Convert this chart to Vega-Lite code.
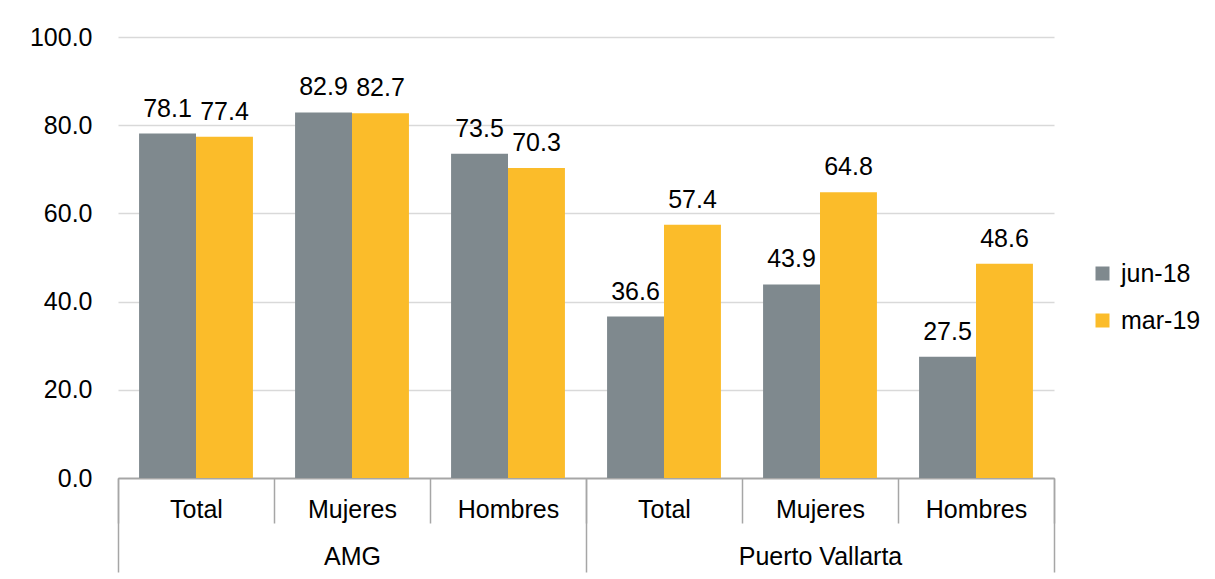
{
  "$schema": "https://vega.github.io/schema/vega-lite/v6.json",
  "width": 936,
  "height": 441,
  "autosize": "none",
  "padding": {"left": 118, "top": 37, "right": 161, "bottom": 101},
  "background": "white",
  "config": {
    "font": "Liberation Sans",
    "view": {"stroke": null},
    "axis": {"labelFont": "Liberation Sans", "labelColor": "#000000"},
    "legend": {"labelFont": "Liberation Sans"}
  },
  "layer": [
    {
      "data": {
        "values": [
          {"grupo": "AMG", "cat": "Total", "key": "AMG|Total", "serie": "jun-18", "valor": 78.1},
          {"grupo": "AMG", "cat": "Total", "key": "AMG|Total", "serie": "mar-19", "valor": 77.4},
          {"grupo": "AMG", "cat": "Mujeres", "key": "AMG|Mujeres", "serie": "jun-18", "valor": 82.9},
          {"grupo": "AMG", "cat": "Mujeres", "key": "AMG|Mujeres", "serie": "mar-19", "valor": 82.7},
          {"grupo": "AMG", "cat": "Hombres", "key": "AMG|Hombres", "serie": "jun-18", "valor": 73.5},
          {"grupo": "AMG", "cat": "Hombres", "key": "AMG|Hombres", "serie": "mar-19", "valor": 70.3},
          {"grupo": "Puerto Vallarta", "cat": "Total", "key": "PV|Total", "serie": "jun-18", "valor": 36.6},
          {"grupo": "Puerto Vallarta", "cat": "Total", "key": "PV|Total", "serie": "mar-19", "valor": 57.4},
          {"grupo": "Puerto Vallarta", "cat": "Mujeres", "key": "PV|Mujeres", "serie": "jun-18", "valor": 43.9},
          {"grupo": "Puerto Vallarta", "cat": "Mujeres", "key": "PV|Mujeres", "serie": "mar-19", "valor": 64.8},
          {"grupo": "Puerto Vallarta", "cat": "Hombres", "key": "PV|Hombres", "serie": "jun-18", "valor": 27.5},
          {"grupo": "Puerto Vallarta", "cat": "Hombres", "key": "PV|Hombres", "serie": "mar-19", "valor": 48.6}
        ]
      },
      "encoding": {
        "x": {
          "field": "key",
          "type": "nominal",
          "sort": null,
          "scale": {"paddingInner": 0, "paddingOuter": 0},
          "axis": {
            "orient": "bottom",
            "title": null,
            "labelExpr": "split(datum.label, '|')[1]",
            "labelAngle": 0,
            "labelFontSize": 25,
            "labelPadding": -26,
            "tickBand": "extent",
            "tickSize": 45,
            "tickColor": "#a6a6a6",
            "tickWidth": 1.5,
            "domainColor": "#a6a6a6",
            "domainWidth": 1.5,
            "grid": false
          }
        },
        "xOffset": {"field": "serie", "type": "nominal", "scale": {"paddingInner": 0, "paddingOuter": 0.37}},
        "y": {
          "field": "valor",
          "type": "quantitative",
          "scale": {"domain": [0, 100], "nice": false},
          "axis": {
            "title": null,
            "values": [0, 20, 40, 60, 80, 100],
            "format": ".1f",
            "domain": false,
            "ticks": false,
            "labelFontSize": 25,
            "labelPadding": 26,
            "gridColor": "#d9d9d9",
            "gridWidth": 1.5
          }
        }
      },
      "layer": [
        {
          "mark": {"type": "bar"},
          "encoding": {
            "color": {
              "field": "serie",
              "type": "nominal",
              "scale": {"domain": ["jun-18", "mar-19"], "range": ["#7F898E", "#FBBC2A"]},
              "legend": {
                "title": null,
                "orient": "none",
                "legendX": 972,
                "legendY": 224,
                "symbolType": "square",
                "symbolSize": 196,
                "symbolStrokeWidth": 0,
                "labelFontSize": 25,
                "labelColor": "#000000",
                "rowPadding": 21,
                "labelOffset": 6
              }
            }
          }
        },
        {
          "mark": {"type": "text", "baseline": "alphabetic", "dy": -17, "fontSize": 25, "color": "#000000"},
          "encoding": {
            "text": {"field": "valor", "type": "quantitative", "format": ".1f"}
          }
        }
      ]
    },
    {
      "data": {"values": [{"grupo": "AMG"}, {"grupo": "Puerto Vallarta"}]},
      "mark": {"type": "bar", "opacity": 0},
      "encoding": {
        "x": {
          "field": "grupo",
          "type": "nominal",
          "sort": null,
          "scale": {"paddingInner": 0, "paddingOuter": 0},
          "axis": {
            "orient": "bottom",
            "title": null,
            "labelAngle": 0,
            "labelFontSize": 25,
            "labelPadding": -28,
            "tickBand": "extent",
            "tickSize": 94,
            "tickColor": "#a6a6a6",
            "tickWidth": 1.5,
            "domainColor": "#a6a6a6",
            "domainWidth": 1.5,
            "grid": false
          }
        }
      }
    }
  ],
  "resolve": {"scale": {"x": "independent"}, "axis": {"x": "independent"}}
}
